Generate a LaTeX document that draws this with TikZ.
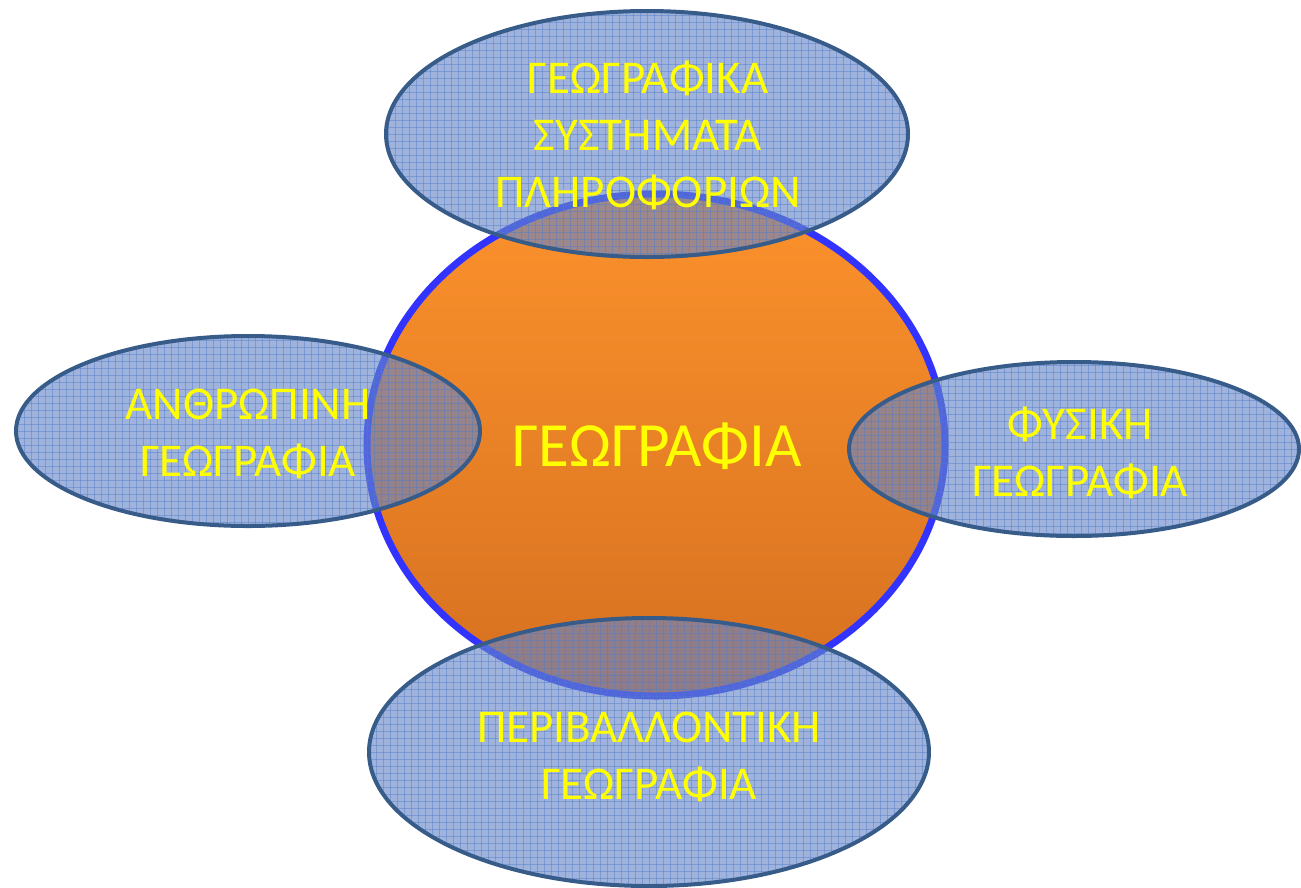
\documentclass[tikz,border=0pt]{standalone}
\usepackage{fontspec}
\setmainfont{Carlito}
\usetikzlibrary{shapes.geometric}
\definecolor{ringblue}{RGB}{51,51,255}
\definecolor{orangetop}{RGB}{252,146,44}
\definecolor{orangebot}{RGB}{214,112,32}
\definecolor{ovalfill}{RGB}{100,132,200}
\definecolor{ovalline}{RGB}{56,92,138}
\definecolor{gridline}{RGB}{80,125,200}
\definecolor{txtyellow}{RGB}{255,255,0}
\tikzset{
  oval/.style={ellipse, draw=ovalline, line width=4pt, fill=ovalfill, fill opacity=0.62, draw opacity=1, inner sep=0pt,
    path picture={
      \foreach \k in {-100,...,100}{
        \draw[gridline, line width=0.7pt, draw opacity=0.45]
          ([xshift=7*\k pt]path picture bounding box.north) -- ([xshift=7*\k pt]path picture bounding box.south);
        \draw[gridline, line width=0.7pt, draw opacity=0.45]
          ([yshift=7*\k pt]path picture bounding box.west) -- ([yshift=7*\k pt]path picture bounding box.east);
      }
    }},
  lbl/.style={text=txtyellow, font=\fontsize{47}{57}\selectfont, align=center, inner sep=0pt},
}
\begin{document}
\begin{tikzpicture}[x=1pt,y=-1pt]
\useasboundingbox (0,0) rectangle (1301,887);
\node[ellipse, draw=ringblue, line width=7pt, top color=orangetop, bottom color=orangebot,
  minimum width=578pt, minimum height=502pt, inner sep=0pt] (geo) at (656,445) {};
\node[oval, minimum width=522pt, minimum height=246pt] (gis) at (647,134) {};
\node[oval, minimum width=464pt, minimum height=190pt] (human) at (248,431) {};
\node[oval, minimum width=450pt, minimum height=174pt] (phys) at (1074,449) {};
\node[oval, minimum width=560pt, minimum height=268pt] (env) at (649,752) {};
\node[lbl, font=\fontsize{63}{70}\selectfont] (geotxt) at (657,446) {ΓΕΩΓΡΑΦΙΑ};
\node[lbl] (gistxt) at (648,135) {ΓΕΩΓΡΑΦΙΚΑ\\ΣΥΣΤΗΜΑΤΑ\\ΠΛΗΡΟΦΟΡΙΩΝ};
\node[lbl] (humantxt) at (248,434) {ΑΝΘΡΩΠΙΝΗ\\ΓΕΩΓΡΑΦΙΑ};
\node[lbl] (phystxt) at (1080,453) {ΦΥΣΙΚΗ\\ΓΕΩΓΡΑΦΙΑ};
\node[lbl] (envtxt) at (649,757) {ΠΕΡΙΒΑΛΛΟΝΤΙΚΗ\\ΓΕΩΓΡΑΦΙΑ};
\end{tikzpicture}
\end{document}
